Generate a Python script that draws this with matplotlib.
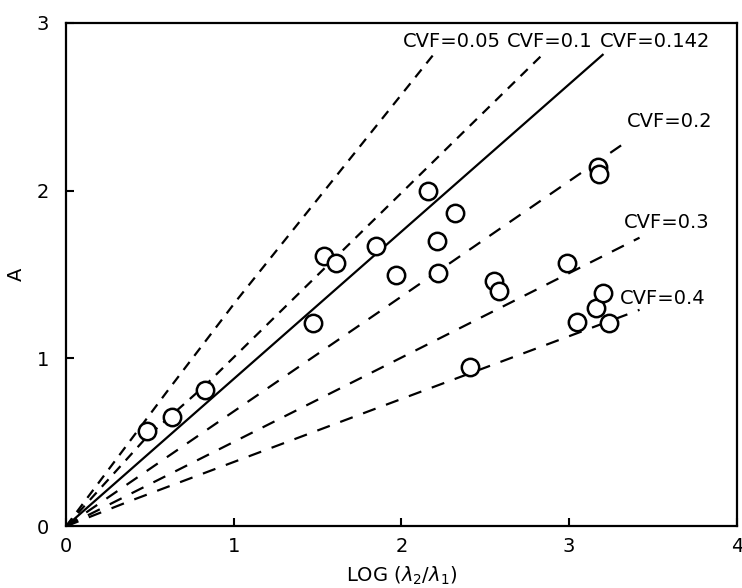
import matplotlib
matplotlib.use('Agg')
import matplotlib.pyplot as plt

# measured points (LOG(l2/l1), A)
obs_x = [0.48, 0.63, 0.83, 1.47, 1.54, 1.61, 1.85, 1.97, 2.16, 2.21, 2.22, 2.32,
         2.41, 2.55, 2.58, 2.99, 3.05, 3.17, 3.18, 3.16, 3.20, 3.24]
obs_y = [0.57, 0.65, 0.81, 1.21, 1.61, 1.57, 1.67, 1.50, 2.00, 1.70, 1.51, 1.87,
         0.95, 1.46, 1.40, 1.57, 1.22, 2.14, 2.10, 1.30, 1.39, 1.21]

# CVF curves
cvf05_x = [0, 0.60, 1.02, 2.19]
cvf05_y = [0, 0.80, 1.35, 2.81]
cvf10_x = [0, 0.48, 0.83, 1.35, 2.84]
cvf10_y = [0, 0.53, 0.84, 1.35, 2.81]
cvf142_x = [0, 3.20]
cvf142_y = [0, 2.81]
cvf20_x = [0, 1.87, 3.31]
cvf20_y = [0, 1.28, 2.27]
cvf30_x = [0, 1.87, 3.42]
cvf30_y = [0, 0.94, 1.72]
cvf40_x = [0, 0.38, 1.87, 3.42]
cvf40_y = [0, 0.15, 0.71, 1.29]

labels = ['CVF=0.05', 'CVF=0.1', 'CVF=0.142', 'CVF=0.2', 'CVF=0.3', 'CVF=0.4']
label_x = [2.30, 2.885, 3.51, 3.60, 3.58, 3.56]
label_y = [2.89, 2.89, 2.89, 2.41, 1.81, 1.36]

fig = plt.figure(figsize=(7.42, 5.88), dpi=100)
ax = fig.add_axes([0.089, 0.105, 0.904, 0.856])

dash = (0, (4.5, 3.5))
ax.plot(cvf05_x, cvf05_y, color='black', lw=1.6, linestyle=dash)
ax.plot(cvf10_x, cvf10_y, color='black', lw=1.6, linestyle=dash)
ax.plot(cvf142_x, cvf142_y, color='black', lw=1.6)
ax.plot(cvf20_x, cvf20_y, color='black', lw=1.6, linestyle=(0, (6, 5)))
ax.plot(cvf30_x, cvf30_y, color='black', lw=1.6, linestyle=(0, (6, 5)))
ax.plot(cvf40_x, cvf40_y, color='black', lw=1.6, linestyle=(0, (6, 5)))

ax.plot(obs_x, obs_y, 'o', ms=12.5, mfc='white', mec='black', mew=1.8)

for t, lx, ly in zip(labels, label_x, label_y):
    ax.text(lx, ly, t, fontsize=14, ha='center', va='center')

ax.set_xlim(0, 4)
ax.set_ylim(0, 3)
ax.set_xticks([0, 1, 2, 3, 4])
ax.set_yticks([0, 1, 2, 3])
ax.tick_params(direction='in', length=6, width=1.5, labelsize=14)
ax.tick_params(axis='x', pad=8)
ax.tick_params(axis='y', pad=12)
for s in ax.spines.values():
    s.set_linewidth(1.6)

ax.set_xlabel(r'LOG $(\lambda_2/\lambda_1)$', fontsize=14, labelpad=6)
ax.set_ylabel('A', fontsize=14, labelpad=8)

plt.savefig('out.png', dpi=100)
